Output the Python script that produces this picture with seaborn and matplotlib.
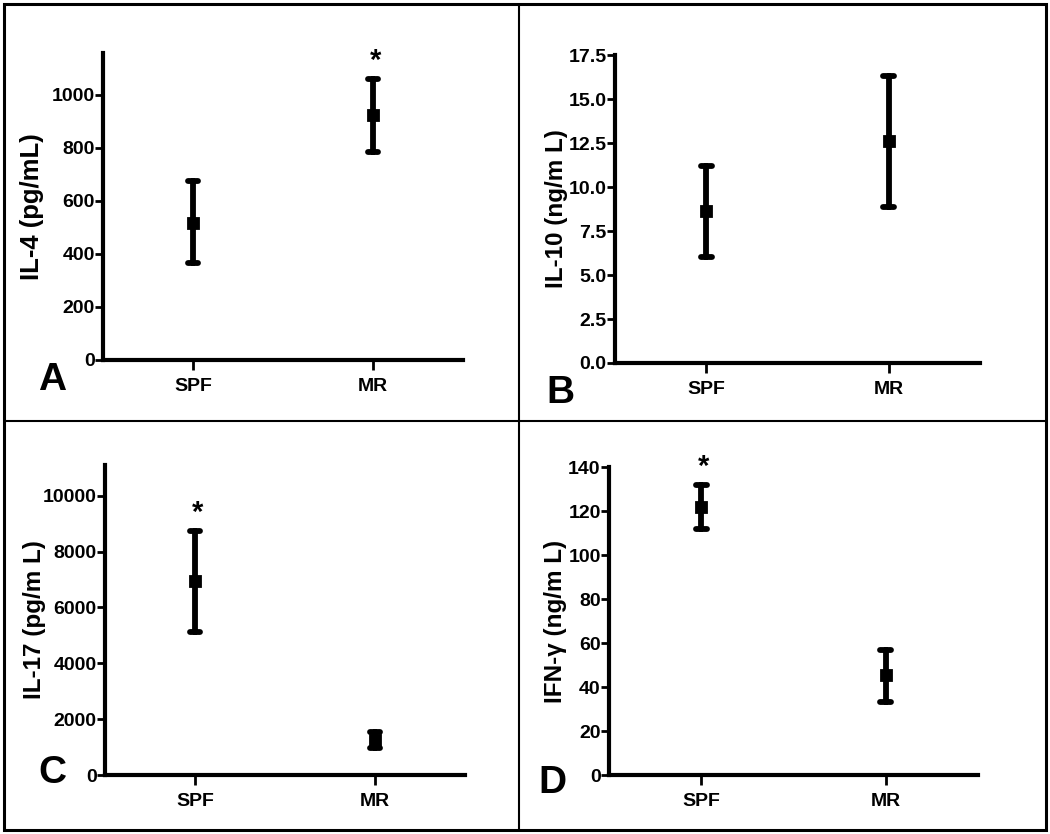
import matplotlib
matplotlib.use("Agg")
import matplotlib.pyplot as plt
from matplotlib.lines import Line2D
from matplotlib.patches import Rectangle
import seaborn as sns
import pandas as pd
import numpy as np

sns.set_style("ticks")
plt.rcParams["font.family"] = ["Liberation Sans", "DejaVu Sans"]
plt.rcParams["font.weight"] = "bold"
for k in ["text.color", "axes.labelcolor", "xtick.color", "ytick.color", "axes.edgecolor"]:
    plt.rcParams[k] = "black"

groups = ["SPF", "MR"]

# mean, lower, upper for each group
il4_mean = [518, 922]
il4_low = [365, 784]
il4_high = [675, 1060]

il10_mean = [8.66, 12.63]
il10_low = [6.05, 8.89]
il10_high = [11.21, 16.32]

il17_mean = [6950, 1254]
il17_low = [5125, 968]
il17_high = [8745, 1541]

ifng_mean = [121.6, 45.4]
ifng_low = [111.7, 33.3]
ifng_high = [131.7, 56.8]

W, H = 1050, 834
fig = plt.figure(figsize=(W / 100, H / 100), dpi=100)


def px_axes(left, top, right, bottom):
    return fig.add_axes([left / W, (H - bottom) / H, (right - left) / W, (bottom - top) / H])


def panel(ax, mean, low, high, ylabel, ymax, yticks, fmt, label_x, star=None, label_size=17.5):
    df = pd.DataFrame({
        "group": np.repeat(groups, 3),
        "value": np.ravel(np.column_stack([low, mean, high])),
    })
    sns.pointplot(data=df, x="group", y="value", order=groups,
                  estimator="median", errorbar=lambda v: (v.min(), v.max()),
                  color="black", capsize=0.06, marker="s", markersize=7,
                  linestyle="none",
                  err_kws={"linewidth": 4.2, "solid_capstyle": "round"}, ax=ax)
    ax.set_xlim(-0.5, 1.5)
    ax.set_ylim(0, ymax)
    ax.set_yticks(yticks)
    ax.set_yticklabels([fmt.format(t) for t in yticks])
    ax.set_xlabel("")
    ax.set_ylabel(ylabel, fontsize=label_size, fontweight="bold")
    ax.yaxis.set_label_coords(label_x, 0.5)
    sns.despine(ax=ax)
    for s in ["left", "bottom"]:
        ax.spines[s].set_linewidth(3)
    ax.tick_params(axis="y", length=6, width=2, pad=0, labelsize=14)
    ax.tick_params(axis="x", length=7, width=2, pad=6, labelsize=14)
    for t in ax.get_xticklabels() + ax.get_yticklabels():
        t.set_fontweight("bold")
    if star is not None:
        ax.annotate("*", xy=(star, high[star]), xytext=(2, 3),
                    textcoords="offset points", ha="center", va="bottom",
                    fontsize=21, fontweight="bold")


axA = px_axes(103, 53, 463, 360)
panel(axA, il4_mean, il4_low, il4_high, "IL-4 (pg/mL)", 1157,
      [0, 200, 400, 600, 800, 1000], "{:g}", -0.165, star=1, label_size=18.5)

axB = px_axes(615, 55, 980, 363)
panel(axB, il10_mean, il10_low, il10_high, "IL-10 (ng/m L)", 17.5,
      [0, 2.5, 5, 7.5, 10, 12.5, 15, 17.5], "{:.1f}", -0.13)

axC = px_axes(105, 465, 465, 775)
panel(axC, il17_mean, il17_low, il17_high, "IL-17 (pg/m L)", 11100,
      [0, 2000, 4000, 6000, 8000, 10000], "{:g}", -0.165, star=0)

axD = px_axes(609, 467, 978, 775)
panel(axD, ifng_mean, ifng_low, ifng_high, "IFN-γ (ng/m L)", 140,
      [0, 20, 40, 60, 80, 100, 120, 140], "{:g}", -0.115, star=0)

# panel letters
for letter, x, y in [("A", 52, 380), ("B", 560, 393), ("C", 52, 773), ("D", 552, 783)]:
    fig.text(x / W, (H - y) / H, letter, fontsize=28, fontweight="bold",
             ha="center", va="center")

# frame and dividers
fig.add_artist(Rectangle((4 / W, 4 / H), (W - 8) / W, (H - 8) / H,
                         transform=fig.transFigure, fill=False,
                         edgecolor="black", linewidth=2.2))
fig.add_artist(Line2D([519 / W, 519 / W], [4 / H, (H - 4) / H],
                      transform=fig.transFigure, color="black", linewidth=1.5))
fig.add_artist(Line2D([4 / W, (W - 4) / W], [(H - 421) / H, (H - 421) / H],
                      transform=fig.transFigure, color="black", linewidth=1.5))

fig.savefig("out.png", dpi=100)
